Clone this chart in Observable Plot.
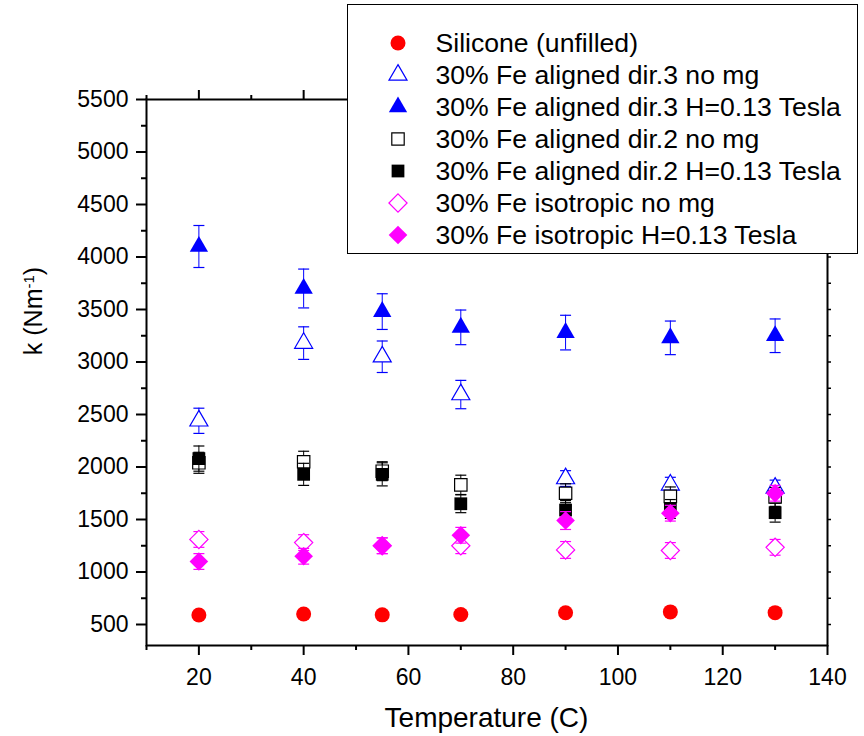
<!DOCTYPE html>
<html>
<head>
<meta charset="utf-8">
<script src="https://cdn.jsdelivr.net/npm/d3@7"></script>
<script src="https://cdn.jsdelivr.net/npm/@observablehq/plot@0.6"></script>
<style>
  body { margin: 0; background: #fff; font-family: "Liberation Sans", Arial, sans-serif; }
  #wrap { position: relative; width: 864px; height: 736px; background: #fff; }
  #legend { position: absolute; left: 347px; top: 4px; width: 511px; height: 250px; box-sizing: border-box;
            border: 1.5px solid #000; background: #fff; }
  #legend .row { position: absolute; left: 0; height: 32px; width: 100%; }
  #legend .row svg { position: absolute; left: 34.5px; top: 0; }
  #legend .row span { position: absolute; left: 87.5px; top: 0; line-height: 32px; font-size: 26.6px; color: #000; white-space: nowrap; }
</style>
</head>
<body>
<div id="wrap"></div>
<script>
// ---- data ----
const temps = [20, 40, 55, 70, 90, 110, 130];

const seriesNames = [
  "Silicone (unfilled)",
  "30% Fe aligned dir.3 no mg",
  "30% Fe aligned dir.3 H=0.13 Tesla",
  "30% Fe aligned dir.2 no mg",
  "30% Fe aligned dir.2 H=0.13 Tesla",
  "30% Fe isotropic no mg",
  "30% Fe isotropic H=0.13 Tesla"
];

const silicone     = [590, 600, 592, 595, 612, 620, 613];
const siliconeErr  = [0, 0, 0, 0, 0, 0, 0];
const dir3NoMg     = [2440, 3180, 3050, 2690, 1890, 1830, 1800];
const dir3NoMgErr  = [120, 155, 150, 135, 75, 72, 75];
const dir3H        = [4100, 3700, 3480, 3330, 3280, 3230, 3250];
const dir3HErr     = [200, 185, 170, 165, 165, 160, 160];
const dir2NoMg     = [2040, 2050, 1960, 1830, 1750, 1720, 1715];
const dir2NoMgErr  = [100, 100, 90, 92, 90, 90, 90];
const dir2H        = [2080, 1930, 1930, 1650, 1590, 1600, 1565];
const dir2HErr     = [120, 105, 110, 85, 90, 90, 90];
const isoNoMg      = [1310, 1280, 1250, 1250, 1210, 1205, 1235];
const isoNoMgErr   = [75, 75, 75, 75, 80, 75, 75];
const isoH         = [1100, 1150, 1250, 1350, 1490, 1560, 1750];
const isoHErr      = [75, 75, 75, 75, 85, 75, 75];

const xTicks = [20, 40, 60, 80, 100, 120, 140];
const xMinorTicks = [10, 30, 50, 70, 90, 110, 130];
const yTicks = [500, 1000, 1500, 2000, 2500, 3000, 3500, 4000, 4500, 5000, 5500];
const yMinorTicks = [750, 1250, 1750, 2250, 2750, 3250, 3750, 4250, 4750, 5250];

const xTitle = "Temperature (C)";
const yTitle = ["k (Nm", "-1", ")"];

// ---- styles per series ----
const seriesValues = [silicone, dir3NoMg, dir3H, dir2NoMg, dir2H, isoNoMg, isoH];
const seriesErrs   = [siliconeErr, dir3NoMgErr, dir3HErr, dir2NoMgErr, dir2HErr, isoNoMgErr, isoHErr];
const seriesSymbol = ["circle", "triangle", "triangle", "square", "square", "diamond2", "diamond2"];
const seriesColor  = ["#ff0000", "#0000ff", "#0000ff", "#000000", "#000000", "#ff00ff", "#ff00ff"];
const seriesFilled = [true, false, true, false, true, false, true];
const seriesR      = [7.5, 6.7, 6.8, 7.0, 7.2, 8.2, 8.4];

const series = seriesNames.map((name, i) => ({
  name, symbol: seriesSymbol[i], color: seriesColor[i], filled: seriesFilled[i], r: seriesR[i],
  data: temps.map((t, j) => ({x: t, y: seriesValues[i][j], err: seriesErrs[i][j]}))
}));

const capSymbol = { draw(ctx) { ctx.moveTo(-5.5, 0); ctx.lineTo(5.5, 0); } };

const marks = [];
for (const s of series) {
  const withErr = s.data.filter(d => d.err > 0);
  if (withErr.length) {
    marks.push(Plot.ruleX(withErr, {x: "x", y1: d => d.y - d.err, y2: d => d.y + d.err, stroke: s.color, strokeWidth: 1}));
    marks.push(Plot.dot(withErr, {x: "x", y: d => d.y - d.err, symbol: capSymbol, fill: "none", stroke: s.color, strokeWidth: 1.2}));
    marks.push(Plot.dot(withErr, {x: "x", y: d => d.y + d.err, symbol: capSymbol, fill: "none", stroke: s.color, strokeWidth: 1.2}));
  }
  marks.push(Plot.dot(s.data, {
    x: "x", y: "y", symbol: s.symbol, r: s.r,
    fill: s.filled ? s.color : "white",
    stroke: s.filled ? "none" : s.color,
    strokeWidth: 1.2
  }));
}

const fmt = d => String(d);

const chart = Plot.plot({
  width: 864, height: 736,
  marginLeft: 146, marginRight: 37, marginTop: 99, marginBottom: 91,
  x: {domain: [10, 140]},
  y: {domain: [300, 5500]},
  style: {fontFamily: "Liberation Sans, Arial, sans-serif", fontSize: "23px", color: "#000", background: "white", overflow: "visible"},
  marks: [
    Plot.axisY(yTicks, {tickSize: 10, tickPadding: 8, strokeWidth: 2, stroke: "black", fill: "black", label: null, fontSize: 23, tickFormat: fmt}),
    Plot.axisY(yMinorTicks, {tickSize: 5, strokeWidth: 2, stroke: "black", fill: "none", label: null}),
    Plot.axisY(yTicks.concat(yMinorTicks), {anchor: "right", tickSize: 3, strokeWidth: 1.5, stroke: "black", fill: "none", label: null}),
    Plot.axisX(xTicks, {tickSize: 10, tickPadding: 13, strokeWidth: 2, stroke: "black", fill: "black", label: null, fontSize: 23, tickFormat: fmt}),
    Plot.axisX(xMinorTicks, {tickSize: 5, strokeWidth: 2, stroke: "black", fill: "none", label: null}),
    Plot.axisX(xTicks, {anchor: "top", tickSize: 10, strokeWidth: 2, stroke: "black", fill: "none", label: null}),
    Plot.axisX(xMinorTicks, {anchor: "top", tickSize: 5, strokeWidth: 2, stroke: "black", fill: "none", label: null}),
    Plot.frame({stroke: "black", strokeWidth: 2}),
    ...marks
  ]
});

document.getElementById("wrap").appendChild(chart);

// axis titles
const svg = d3.select(chart);
svg.append("text")
  .attr("x", 486.5).attr("y", 727)
  .attr("text-anchor", "middle")
  .attr("font-size", 28)
  .attr("fill", "black")
  .text(xTitle);

const yl = svg.append("text")
  .attr("transform", "translate(42,311) rotate(-90)")
  .attr("text-anchor", "middle")
  .attr("font-size", 25)
  .attr("fill", "black");
yl.append("tspan").text(yTitle[0]);
yl.append("tspan").attr("baseline-shift", "super").attr("font-size", 15).text(yTitle[1]);
yl.append("tspan").text(yTitle[2]);

// legend
const d3Sym = {circle: d3.symbolCircle, triangle: d3.symbolTriangle, square: d3.symbolSquare, diamond2: d3.symbolDiamond2};
const legend = d3.select("#wrap").append("div").attr("id", "legend");
series.forEach((s, i) => {
  const row = legend.append("div").attr("class", "row").style("top", (21.5 + 32 * i) + "px");
  const sv = row.append("svg").attr("width", 30).attr("height", 32);
  sv.append("path")
    .attr("transform", "translate(15,16)")
    .attr("d", d3.symbol(d3Sym[s.symbol], Math.PI * s.r * s.r)())
    .attr("fill", s.filled ? s.color : "white")
    .attr("stroke", s.filled ? "none" : s.color)
    .attr("stroke-width", 1.2);
  row.append("span").text(s.name);
});
</script>
</body>
</html>
